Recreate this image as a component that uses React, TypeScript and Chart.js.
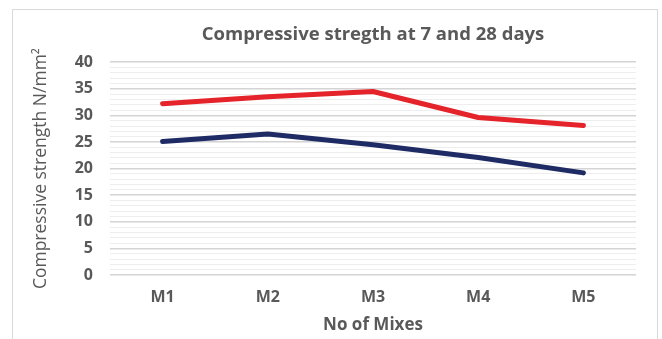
import React, { useEffect, useRef } from "react";
import { Chart, registerables } from "chart.js";

Chart.register(...registerables);

const mixes = ["M1", "M2", "M3", "M4", "M5"];
const strength28Days = [32.2, 33.5, 34.5, 29.6, 28.1];
const strength7Days = [25.1, 26.5, 24.5, 22.1, 19.2];
const yMin = 0;
const yMax = 40;
const yMajorStep = 5;

const TEXT = "#595959";
const FONT = "'Open Sans', 'Noto Sans', sans-serif";

export default function App() {
  const canvasRef = useRef<HTMLCanvasElement | null>(null);

  useEffect(() => {
    const canvas = canvasRef.current;
    if (!canvas) return;
    const chart = new Chart(canvas, {
      type: "line",
      data: {
        labels: mixes,
        datasets: [
          {
            label: "28 days",
            data: strength28Days,
            borderColor: "#e5232a",
            borderWidth: 5,
            pointRadius: 0,
            borderCapStyle: "round",
            borderJoinStyle: "round",
            tension: 0,
          },
          {
            label: "7 days",
            data: strength7Days,
            borderColor: "#1f2b65",
            borderWidth: 5,
            pointRadius: 0,
            borderCapStyle: "round",
            borderJoinStyle: "round",
            tension: 0,
          },
        ],
      },
      options: {
        animation: false,
        responsive: false,
        maintainAspectRatio: false,
        layout: { padding: { left: 10, right: 26, top: 0, bottom: 0 } },
        plugins: {
          legend: { display: false },
          tooltip: { enabled: false },
          title: {
            display: true,
            fullSize: false,
            text: "Compressive stregth at 7 and 28 days",
            color: TEXT,
            font: { family: FONT, size: 18.5, weight: "bold" },
            padding: { top: 24, bottom: 16 },
          },
        },
        scales: {
          x: {
            offset: true,
            grid: { display: false, drawTicks: false },
            border: { display: false },
            ticks: {
              color: TEXT,
              padding: 13,
              font: { family: FONT, size: 16, weight: "bold" },
            },
            title: {
              display: true,
              text: "No of Mixes",
              color: TEXT,
              font: { family: FONT, size: 17, weight: "bold" },
              padding: { top: 0, bottom: 4 },
            },
            afterFit: (scale: any) => {
              scale.height = 64;
            },
          },
          y: {
            min: yMin,
            max: yMax,
            grid: {
              drawTicks: false,
              color: (ctx: any) =>
                ctx.tick && ctx.tick.value % yMajorStep === 0 ? "#d4d4d4" : "#eeeeee",
              lineWidth: (ctx: any) =>
                ctx.tick && ctx.tick.value % yMajorStep === 0 ? 1.6 : 1,
            },
            border: { display: false },
            ticks: {
              stepSize: 1,
              autoSkip: false,
              color: TEXT,
              padding: 17,
              font: { family: FONT, size: 16, weight: "bold" },
              callback: (v: any) => (Number(v) % yMajorStep === 0 ? String(v) : ""),
            },
            title: {
              display: true,
              text: "Compressive strength N/mm²",
              color: TEXT,
              font: { family: FONT, size: 17.5, weight: "normal" },
              padding: { top: 21, bottom: 0 },
            },
            afterFit: (scale: any) => {
              scale.width = 100;
            },
          },
        },
      },
    });
    return () => chart.destroy();
  }, []);

  return (
    <div style={{ position: "absolute", left: 0, top: 0, width: 662, height: 339, background: "#fff" }}>
      <div
        style={{
          position: "absolute",
          left: 12,
          top: 9,
          width: 646,
          height: 360,
          border: "1px solid #d9d9d9",
          boxSizing: "border-box",
        }}
      />
      <canvas ref={canvasRef} width={662} height={339} style={{ position: "absolute", left: 0, top: 0 }} />
    </div>
  );
}
